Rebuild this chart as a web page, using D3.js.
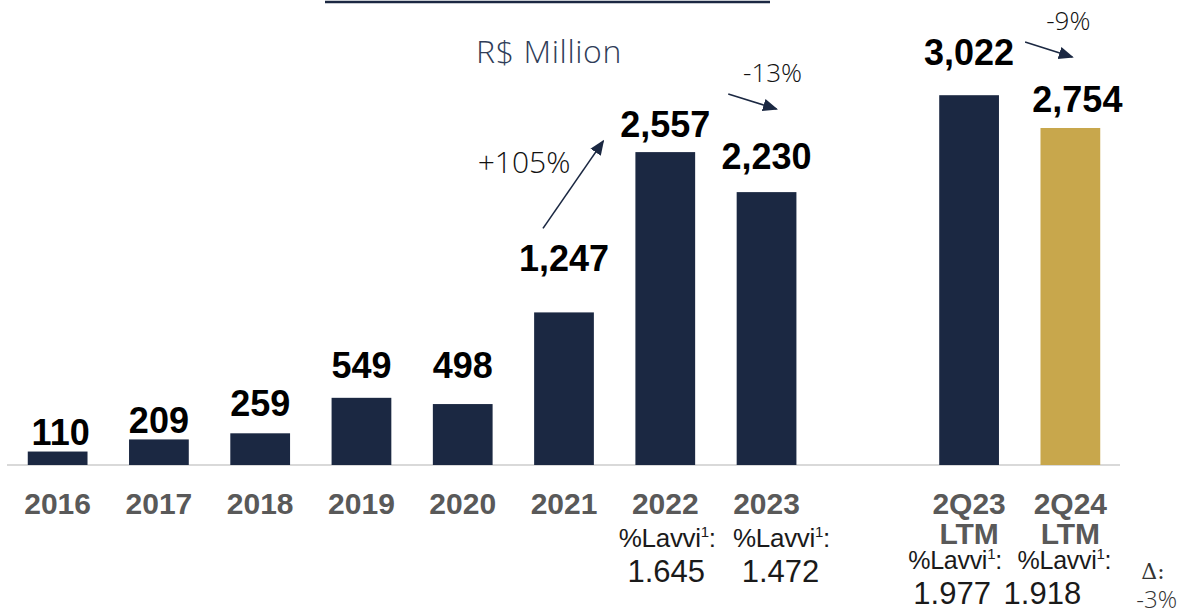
<!DOCTYPE html>
<html>
<head>
<meta charset="utf-8">
<script src="https://cdn.jsdelivr.net/npm/d3@7"></script>
<style>
  html, body { margin: 0; padding: 0; background: #ffffff; }
  svg { display: block; }
</style>
</head>
<body>
<svg id="chart" width="1181" height="616"></svg>
<script>
// Net revenue, R$ million
const categories = ["2016", "2017", "2018", "2019", "2020", "2021", "2022", "2023", "2Q23 LTM", "2Q24 LTM"];
const revenue = [110, 209, 259, 549, 498, 1247, 2557, 2230, 3022, 2754];
const valueLabels = ["110", "209", "259", "549", "498", "1,247", "2,557", "2,230", "3,022", "2,754"];

// Lavvi share figures shown under selected periods
const lavviCategories = ["2022", "2023", "2Q23 LTM", "2Q24 LTM"];
const lavviValues = ["1.645", "1.472", "1.977", "1.918"];
const lavviDelta = "-3%";

// Growth call-outs between periods
const growthLabels = ["+105%", "-13%", "-9%"];

const unitLabel = "R$ Million";

// ---- layout ----
const NAVY = "#1b2842", GOLD = "#c8a74c", GREY = "#595959";
const BOLD = "'Liberation Sans', Arial, sans-serif";
const LIGHT = "'Open Sans', 'Noto Sans', sans-serif";

const svg = d3.select("#chart");

// Eight yearly slots, one empty slot, then the two LTM slots
const slotOf = c => { const i = categories.indexOf(c); return i < 8 ? i : i + 1; };
const x = d3.scaleBand().domain(d3.range(11)).range([7, 1121]).paddingInner(0.41).paddingOuter(0.205);
const y = d3.scaleLinear().domain([0, 3800]).range([465, 0]);
const cx = c => x(slotOf(c)) + x.bandwidth() / 2;

// header rule and unit caption
svg.append("line").attr("x1", 325).attr("x2", 770).attr("y1", 2).attr("y2", 2)
  .attr("stroke", NAVY).attr("stroke-width", 2.5);
svg.append("text").attr("x", 549).attr("y", 63).attr("text-anchor", "middle")
  .attr("font-family", LIGHT).attr("font-weight", 300).attr("font-size", 32)
  .attr("letter-spacing", 0.6).attr("fill", "#2f3d58").text(unitLabel);

// baseline
svg.append("line").attr("x1", 7).attr("x2", 1120).attr("y1", 465).attr("y2", 465)
  .attr("stroke", "#d9d9d9").attr("stroke-width", 2);

// bars
svg.append("g").selectAll("rect").data(categories).join("rect")
  .attr("x", c => x(slotOf(c)))
  .attr("width", x.bandwidth())
  .attr("y", (c, i) => y(revenue[i]))
  .attr("height", (c, i) => y(0) - y(revenue[i]))
  .attr("fill", c => c === "2Q24 LTM" ? GOLD : NAVY);

// value labels (hand-placed lift above each bar top, plus small horizontal nudges)
const labelLift = { "2016": 7, "2017": 6, "2018": 17, "2019": 20, "2020": 26, "2021": 41,
                    "2022": 15, "2023": 23, "2Q23 LTM": 30, "2Q24 LTM": 16 };
const labelShift = { "2016": 3, "2Q24 LTM": 7 };
svg.append("g").selectAll("text").data(categories).join("text")
  .attr("x", c => cx(c) + (labelShift[c] || 0))
  .attr("y", (c, i) => y(revenue[i]) - labelLift[c])
  .attr("text-anchor", "middle")
  .attr("font-family", BOLD).attr("font-weight", 700).attr("font-size", 36)
  .attr("fill", "#000").text((c, i) => valueLabels[i]);

// category labels (LTM periods wrap to a second line)
const cat = svg.append("g").selectAll("text").data(categories).join("text")
  .attr("x", c => cx(c)).attr("y", 514).attr("text-anchor", "middle")
  .attr("font-family", BOLD).attr("font-weight", 700).attr("font-size", 30)
  .attr("fill", GREY);
cat.each(function (c) {
  const parts = c.split(" ");
  d3.select(this).selectAll("tspan").data(parts).join("tspan")
    .attr("x", cx(c)).attr("dy", (p, j) => j === 0 ? 0 : 30).text(p => p);
});

// %Lavvi blocks
const lavviRow = { "2022": 0, "2023": 0, "2Q23 LTM": 22, "2Q24 LTM": 22 };
const lavviHead = { "2022": 2, "2023": 15, "2Q23 LTM": -14, "2Q24 LTM": -6 };
const lavviNum = { "2022": 1, "2023": 14, "2Q23 LTM": -17, "2Q24 LTM": -28 };
const lv = svg.append("g");
lavviCategories.forEach((c, i) => {
  const small = lavviRow[c] > 0;
  const t = lv.append("text").attr("x", cx(c) + lavviHead[c]).attr("y", 547 + lavviRow[c])
    .attr("text-anchor", "middle").attr("font-family", BOLD)
    .attr("font-size", small ? 25 : 26).attr("letter-spacing", -0.3).attr("fill", "#1a1a1a");
  t.append("tspan").text("%Lavvi");
  t.append("tspan").attr("font-size", 15).attr("dy", -10).text("1");
  t.append("tspan").attr("dy", 10).text(":");
  lv.append("text").attr("x", cx(c) + lavviNum[c]).attr("y", 582 + lavviRow[c])
    .attr("text-anchor", "middle").attr("font-family", BOLD)
    .attr("font-size", 31).attr("fill", "#1a1a1a").text(lavviValues[i]);
});
lv.append("text").attr("x", 1153).attr("y", 579).attr("text-anchor", "middle")
  .attr("font-family", "'DejaVu Serif', serif").attr("font-size", 22).attr("fill", "#333").text("Δ:");
lv.append("text").attr("x", 1177).attr("y", 608).attr("text-anchor", "end")
  .attr("font-family", LIGHT).attr("font-weight", 300).attr("font-size", 24).attr("fill", "#333").text(lavviDelta);

// growth arrows
const defs = svg.append("defs");
defs.append("marker").attr("id", "head").attr("viewBox", "0 0 10 10")
  .attr("refX", 9).attr("refY", 5).attr("markerWidth", 15).attr("markerHeight", 15)
  .attr("markerUnits", "userSpaceOnUse").attr("orient", "auto")
  .append("path").attr("d", "M0,0.8 L10,5 L0,9.2 Z").attr("fill", NAVY);

// arrow endpoints, positioned relative to the bars they connect
const arrows = [
  { x1: cx("2021") - 21, y1: y(revenue[5]) - 84, x2: cx("2022") - 62, y2: y(revenue[6]) - 11,
    tx: cx("2021") - 40, ty: 173, size: 30 },
  { x1: cx("2022") + 63, y1: 94, x2: cx("2023") + 10, y2: 109, tx: cx("2023") + 6, ty: 82, size: 26 },
  { x1: cx("2Q23 LTM") + 56, y1: 42, x2: cx("2Q24 LTM") + 2, y2: 57, tx: cx("2Q24 LTM") - 2, ty: 30, size: 26 }
];
const ag = svg.append("g");
growthLabels.forEach((lab, i) => {
  const a = arrows[i];
  ag.append("line").attr("x1", a.x1).attr("y1", a.y1).attr("x2", a.x2).attr("y2", a.y2)
    .attr("stroke", NAVY).attr("stroke-width", 1.6).attr("marker-end", "url(#head)");
  ag.append("text").attr("x", a.tx).attr("y", a.ty).attr("text-anchor", "middle")
    .attr("font-family", LIGHT).attr("font-weight", 300).attr("font-size", a.size)
    .attr("fill", "#111").text(lab);
});
</script>
</body>
</html>
